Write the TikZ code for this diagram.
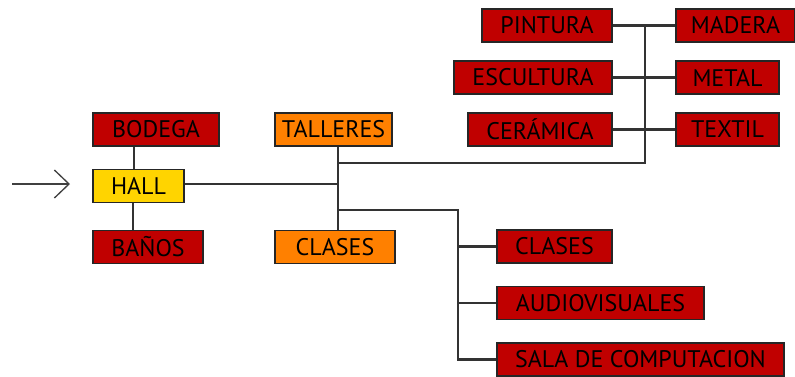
\documentclass[tikz,border=0pt]{standalone}
\usepackage{fontspec}
\setmainfont{PT Sans}
\usetikzlibrary{arrows.meta}

\definecolor{roomred}{HTML}{C00000}
\definecolor{roomorange}{HTML}{FF8000}
\definecolor{roomyellow}{HTML}{FFD400}

\begin{document}
\begin{tikzpicture}[x=0.75pt, y=-0.75pt,
    room/.style={draw=black!85, line width=0.8pt, minimum height=24.75pt, inner sep=0pt,
        font=\fontsize{18}{21}\selectfont},
    wd/.style={minimum width=#1*0.75pt},
    red/.style={room, fill=roomred},
    orange/.style={room, fill=roomorange},
    yellow/.style={room, fill=roomyellow},
    link/.style={draw=black!80, line width=1.6pt}]
    \useasboundingbox (0,0) rectangle (795,376);
    \node [red, wd=126] (bodega) at (156, 129.5) {BODEGA};
    \node [yellow, wd=91] (hall) at (138.5, 186) {HALL};
    \node [red, wd=110] (banos) at (148, 247) {BAÑOS};
    \node [orange, wd=117] (talleres) at (333.5, 129.5) {TALLERES};
    \node [orange, wd=120] (clases) at (335, 247) {CLASES};
    \node [red, wd=130] (pintura) at (547, 25.5) {PINTURA};
    \node [red, wd=119] (madera) at (735.5, 25.5) {MADERA};
    \node [red, wd=158] (escultura) at (533, 77.5) {ESCULTURA};
    \node [red, wd=103] (metal) at (727.5, 77.5) {METAL};
    \node [red, wd=144] (ceramica) at (540, 129.5) {CERÁMICA};
    \node [red, wd=103] (textil) at (727.5, 129.5) {TEXTIL};
    \node [red, wd=115] (aulas) at (554.5, 246.5) {CLASES};
    \node [red, wd=207] (audio) at (600.5, 303) {AUDIOVISUALES};
    \node [red, wd=287] (computo) at (640.5, 359.5) {SALA DE COMPUTACION};
    \coordinate (entrada) at (12, 184);
    \coordinate (punta) at (70, 184);
    \coordinate (t1) at (338, 163);
    \coordinate (t2) at (338, 184);
    \coordinate (t3) at (338, 210);
    \coordinate (arriba) at (645, 25.5);
    \coordinate (abajo) at (458, 210);
    \draw [draw=black!75, line width=1pt, -{Straight Barb[length=11pt, width=21pt]}] (entrada) -- (punta);
    \draw [link] ([xshift=-3.5pt]hall.north) -- ([xshift=-3.5pt]hall.north |- bodega.south);
    \draw [link] ([xshift=-4pt]hall.south) -- ([xshift=-4pt]hall.south |- banos.north);
    \draw [link] (hall.east |- t2) -- (t2);
    \draw [link] (talleres.south -| t1) -- (clases.north -| t1);
    \draw [link] (t1) -| (arriba);
    \draw [link] (pintura.east) -- (madera.west);
    \draw [link] (escultura.east) -- (metal.west);
    \draw [link] (ceramica.east) -- (textil.west);
    \draw [link] (t3) -- (abajo) |- (computo.west);
    \draw [link] (aulas.west -| abajo) -- (aulas.west);
    \draw [link] (audio.west -| abajo) -- (audio.west);
\end{tikzpicture}
\end{document}
